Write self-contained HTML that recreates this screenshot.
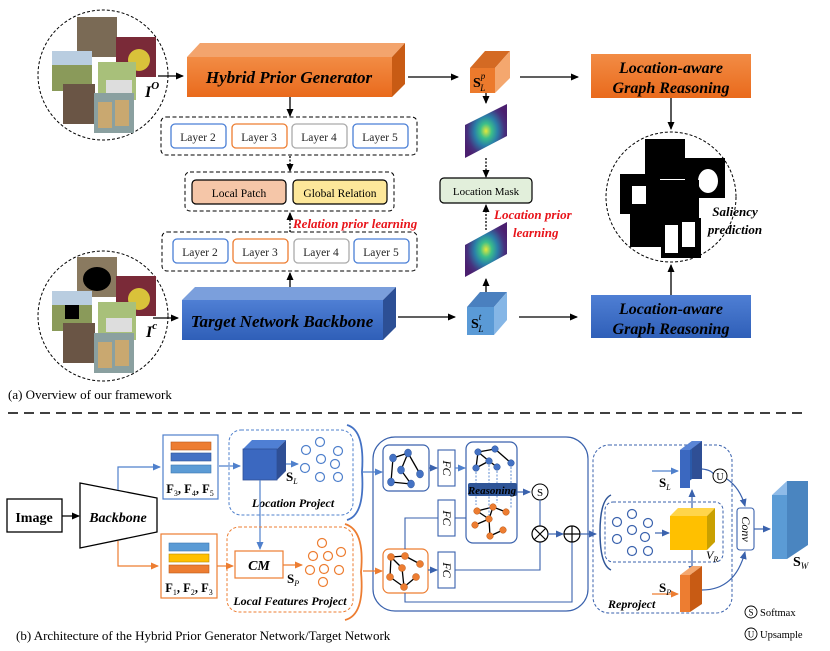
<!DOCTYPE html>
<html><head><meta charset="utf-8"><style>
body{margin:0;background:#fff}
svg{display:block;font-family:"Liberation Serif",serif}
</style></head><body>
<svg width="830" height="651" viewBox="0 0 830 651" xmlns="http://www.w3.org/2000/svg">
<defs>
<marker id="ab" markerWidth="8" markerHeight="8" refX="7" refY="4" orient="auto" markerUnits="userSpaceOnUse"><path d="M0,0.5 L8,4 L0,7.5z" fill="#000"/></marker>
<marker id="abl" markerWidth="8" markerHeight="8" refX="7" refY="4" orient="auto" markerUnits="userSpaceOnUse"><path d="M0,0.5 L8,4 L0,7.5z" fill="#3a62ad"/></marker>
<marker id="abl2" markerWidth="8" markerHeight="8" refX="7" refY="4" orient="auto" markerUnits="userSpaceOnUse"><path d="M0,0.5 L8,4 L0,7.5z" fill="#4f80cc"/></marker>
<marker id="aor" markerWidth="8" markerHeight="8" refX="7" refY="4" orient="auto" markerUnits="userSpaceOnUse"><path d="M0,0.5 L8,4 L0,7.5z" fill="#ed7d31"/></marker>
<linearGradient id="og" x1="0" y1="0" x2="0" y2="1"><stop offset="0" stop-color="#f28c45"/><stop offset="1" stop-color="#e96a1c"/></linearGradient>
<linearGradient id="bg" x1="0" y1="0" x2="0" y2="1"><stop offset="0" stop-color="#4f7fd4"/><stop offset="1" stop-color="#2f5fb8"/></linearGradient>
<radialGradient id="hm" cx="0.5" cy="0.5" r="0.55"><stop offset="0" stop-color="#e7e83a"/><stop offset="0.25" stop-color="#3bbf8a"/><stop offset="0.5" stop-color="#2a7fa8"/><stop offset="0.8" stop-color="#46327e"/><stop offset="1" stop-color="#4b1f6f"/></radialGradient>
</defs>

<!-- Top circle -->
<circle cx="103" cy="75" r="65" fill="none" stroke="#000" stroke-dasharray="3,2"/>
<rect x="77" y="17" width="40" height="40" fill="#7a6a55"/>
<rect x="116" y="37" width="40" height="40" fill="#7a2a38"/>
<circle cx="139" cy="60" r="11" fill="#d9c23a"/>
<rect x="52" y="51" width="40" height="40" fill="#8a9a5a"/>
<rect x="52" y="51" width="40" height="14" fill="#b9cde0"/>
<rect x="98" y="62" width="38" height="38" fill="#a8c07a"/>
<rect x="106" y="80" width="26" height="14" fill="#ddd"/>
<rect x="63" y="84" width="32" height="40" fill="#6a5545"/>
<rect x="94" y="93" width="40" height="40" fill="#8aa0a0"/>
<rect x="98" y="102" width="14" height="26" fill="#c9a870"/>
<rect x="115" y="100" width="14" height="26" fill="#c9a870"/>
<text x="145" y="97" font-size="16" font-style="italic" font-weight="bold">I<tspan font-size="11" dy="-8">O</tspan></text>
<line x1="158" y1="76" x2="183" y2="76" stroke="#000" stroke-width="1.3" marker-end="url(#ab)"/>

<!-- Hybrid Prior Generator -->
<polygon points="187,57 200,43 405,43 392,57" fill="#f3a46d"/>
<polygon points="392,57 405,43 405,84 392,97" fill="#c85b14"/>
<rect x="187" y="57" width="205" height="40" fill="url(#og)"/>
<text x="289" y="83" font-size="17" font-weight="bold" font-style="italic" text-anchor="middle">Hybrid Prior Generator</text>
<line x1="290" y1="97" x2="290" y2="116" stroke="#000" stroke-width="1.3" marker-end="url(#ab)"/>

<!-- layer group 1 -->
<rect x="161" y="117" width="256" height="38" rx="5" fill="none" stroke="#000" stroke-dasharray="4,2.5"/>
<g font-size="11.5" text-anchor="middle" fill="#222">
<rect x="171" y="124" width="55" height="24" rx="4" fill="#fff" stroke="#4a7fd6" stroke-width="1.3"/><text x="198" y="141">Layer 2</text>
<rect x="232" y="124" width="55" height="24" rx="4" fill="#fff" stroke="#ed7d31" stroke-width="1.3"/><text x="259" y="141">Layer 3</text>
<rect x="292" y="124" width="55" height="24" rx="4" fill="#fff" stroke="#aaa" stroke-width="1.3"/><text x="319" y="141">Layer 4</text>
<rect x="353" y="124" width="55" height="24" rx="4" fill="#fff" stroke="#4a7fd6" stroke-width="1.3"/><text x="380" y="141">Layer 5</text>
</g>
<line x1="290" y1="156" x2="290" y2="171" stroke="#000" stroke-width="1.3" stroke-dasharray="2,1.5" marker-end="url(#ab)"/>

<!-- local/global -->
<rect x="185" y="172" width="209" height="39" rx="5" fill="none" stroke="#000" stroke-dasharray="4,2.5"/>
<rect x="192" y="180" width="94" height="24" rx="4" fill="#f5c6a8" stroke="#000" stroke-width="1.2"/>
<rect x="293" y="180" width="94" height="24" rx="4" fill="#fde79a" stroke="#000" stroke-width="1.2"/>
<text x="239" y="197" font-size="11.5" text-anchor="middle">Local Patch</text>
<text x="340" y="197" font-size="11.5" text-anchor="middle">Global Relation</text>
<line x1="290" y1="232" x2="290" y2="213" stroke="#000" stroke-width="1.3" stroke-dasharray="2,1.5" marker-end="url(#ab)"/>
<text x="293" y="228" font-size="13" font-weight="bold" font-style="italic" fill="#e8141a">Relation prior learning</text>

<!-- layer group 2 -->
<rect x="162" y="232" width="255" height="39" rx="5" fill="none" stroke="#000" stroke-dasharray="4,2.5"/>
<g font-size="11.5" text-anchor="middle" fill="#222">
<rect x="173" y="239" width="55" height="24" rx="4" fill="#fff" stroke="#4a7fd6" stroke-width="1.3"/><text x="200" y="256">Layer 2</text>
<rect x="233" y="239" width="55" height="24" rx="4" fill="#fff" stroke="#ed7d31" stroke-width="1.3"/><text x="260" y="256">Layer 3</text>
<rect x="294" y="239" width="55" height="24" rx="4" fill="#fff" stroke="#aaa" stroke-width="1.3"/><text x="321" y="256">Layer 4</text>
<rect x="354" y="239" width="55" height="24" rx="4" fill="#fff" stroke="#4a7fd6" stroke-width="1.3"/><text x="381" y="256">Layer 5</text>
</g>
<line x1="290" y1="290" x2="290" y2="273" stroke="#000" stroke-width="1.3" marker-end="url(#ab)"/>

<!-- Target network backbone -->
<polygon points="182,300 195,287 396,287 383,300" fill="#7b9fdc"/>
<polygon points="383,300 396,287 396,327 383,340" fill="#2c4f95"/>
<rect x="182" y="300" width="201" height="40" fill="url(#bg)"/>
<text x="282" y="327" font-size="17" font-weight="bold" font-style="italic" text-anchor="middle">Target Network Backbone</text>

<!-- bottom circle -->
<circle cx="103" cy="316" r="65" fill="none" stroke="#000" stroke-dasharray="3,2"/>
<rect x="77" y="257" width="40" height="40" fill="#8a7a60"/>
<ellipse cx="97" cy="279" rx="14" ry="12" fill="#000"/>
<rect x="116" y="276" width="40" height="40" fill="#7a2a38"/>
<circle cx="139" cy="299" r="11" fill="#d9c23a"/>
<rect x="52" y="291" width="40" height="40" fill="#8a9a5a"/>
<rect x="52" y="291" width="40" height="14" fill="#b9cde0"/>
<rect x="65" y="305" width="14" height="14" fill="#000"/>
<rect x="98" y="302" width="38" height="38" fill="#a8c07a"/>
<rect x="106" y="318" width="26" height="14" fill="#ddd"/>
<rect x="63" y="323" width="32" height="40" fill="#6a5545"/>
<rect x="94" y="333" width="40" height="40" fill="#8aa0a0"/>
<rect x="98" y="342" width="14" height="26" fill="#c9a870"/>
<rect x="115" y="340" width="14" height="26" fill="#c9a870"/>
<text x="146" y="337" font-size="16" font-style="italic" font-weight="bold">I<tspan font-size="11" dy="-8">c</tspan></text>
<line x1="153" y1="318" x2="178" y2="318" stroke="#000" stroke-width="1.3" marker-end="url(#ab)"/>

<!-- right top -->
<line x1="408" y1="77" x2="458" y2="77" stroke="#000" stroke-width="1.3" marker-end="url(#ab)"/>
<polygon points="470,68 485,51 510,51 495,68" fill="#d46a23"/>
<polygon points="495,68 510,51 510,78 495,93" fill="#f4a76e"/>
<rect x="470" y="68" width="25" height="25" fill="#ec7a2c"/>
<text x="473" y="87" font-size="14" font-weight="bold">S<tspan font-size="9" dy="-8" font-style="italic" font-weight="normal">p</tspan><tspan font-size="9" dx="-5" dy="12" font-style="italic" font-weight="normal">L</tspan></text>
<line x1="520" y1="77" x2="578" y2="77" stroke="#000" stroke-width="1.3" marker-end="url(#ab)"/>
<rect x="591" y="54" width="160" height="44" fill="url(#og)"/>
<text x="671" y="73" font-size="16" font-weight="bold" font-style="italic" text-anchor="middle">Location-aware</text>
<text x="671" y="93" font-size="16" font-weight="bold" font-style="italic" text-anchor="middle">Graph Reasoning</text>
<line x1="671" y1="98" x2="671" y2="129" stroke="#000" stroke-width="1.3" marker-end="url(#ab)"/>

<line x1="486" y1="93" x2="486" y2="103" stroke="#000" stroke-width="1.3" marker-end="url(#ab)"/>
<polygon points="465,125 507,104 507,136 465,158" fill="url(#hm)"/>
<line x1="486" y1="158" x2="486" y2="177" stroke="#000" stroke-width="1.3" stroke-dasharray="2,1.5" marker-end="url(#ab)"/>
<rect x="440" y="178" width="92" height="25" rx="4" fill="#e2efdb" stroke="#000" stroke-width="1.2"/>
<text x="486" y="195" font-size="11" text-anchor="middle">Location Mask</text>
<line x1="486" y1="230" x2="486" y2="205" stroke="#000" stroke-width="1.3" stroke-dasharray="2,1.5" marker-end="url(#ab)"/>
<text x="494" y="219" font-size="13" font-weight="bold" font-style="italic" fill="#e8141a">Location prior</text>
<text x="513" y="237" font-size="13" font-weight="bold" font-style="italic" fill="#e8141a">learning</text>
<polygon points="465,245 507,222 507,254 465,277" fill="url(#hm)"/>
<line x1="486" y1="292" x2="486" y2="279" stroke="#000" stroke-width="1.3" marker-end="url(#ab)"/>
<polygon points="467,307 480,292 507,292 494,307" fill="#4a80bf"/>
<polygon points="494,307 507,292 507,320 494,335" fill="#85b6e6"/>
<rect x="467" y="307" width="27" height="28" fill="#5a9ad6"/>
<text x="471" y="328" font-size="14" font-weight="bold">S<tspan font-size="9" dy="-8" font-style="italic" font-weight="normal">t</tspan><tspan font-size="9" dx="-3" dy="12" font-style="italic" font-weight="normal">L</tspan></text>
<line x1="398" y1="317" x2="455" y2="317" stroke="#000" stroke-width="1.3" marker-end="url(#ab)"/>
<line x1="519" y1="317" x2="577" y2="317" stroke="#000" stroke-width="1.3" marker-end="url(#ab)"/>
<rect x="591" y="295" width="160" height="43" fill="url(#bg)"/>
<text x="671" y="314" font-size="16" font-weight="bold" font-style="italic" text-anchor="middle">Location-aware</text>
<text x="671" y="334" font-size="16" font-weight="bold" font-style="italic" text-anchor="middle">Graph Reasoning</text>
<line x1="671" y1="295" x2="671" y2="265" stroke="#000" stroke-width="1.3" marker-end="url(#ab)"/>

<!-- saliency -->
<circle cx="671" cy="197" r="65" fill="none" stroke="#000" stroke-dasharray="3,2"/>
<rect x="645" y="139" width="40" height="40" fill="#000"/>
<rect x="685" y="158" width="40" height="40" fill="#000"/>
<ellipse cx="708" cy="181" rx="10" ry="12" fill="#fff"/>
<rect x="620" y="174" width="40" height="40" fill="#000"/>
<rect x="632" y="186" width="14" height="18" fill="#fff"/>
<rect x="659" y="180" width="40" height="40" fill="#000"/>
<rect x="630" y="209" width="32" height="38" fill="#000"/>
<rect x="661" y="218" width="40" height="40" fill="#000"/>
<rect x="665" y="225" width="13" height="28" fill="#fff"/>
<rect x="682" y="222" width="13" height="25" fill="#fff"/>
<text x="735" y="216" font-size="13" font-weight="bold" font-style="italic" text-anchor="middle">Saliency</text>
<text x="735" y="234" font-size="13" font-weight="bold" font-style="italic" text-anchor="middle">prediction</text>

<text x="8" y="399" font-size="13">(a) Overview of our framework</text>
<line x1="8" y1="413" x2="807" y2="413" stroke="#000" stroke-width="1.5" stroke-dasharray="10,6"/>

<!-- ===== Part b ===== -->
<rect x="7" y="499" width="55" height="33" fill="#fff" stroke="#000" stroke-width="1.3"/>
<text x="34" y="522" font-size="14" font-weight="bold" text-anchor="middle">Image</text>
<line x1="62" y1="516" x2="79" y2="516" stroke="#000" stroke-width="1.3" marker-end="url(#ab)"/>
<polygon points="80,483 157,498 157,532 80,548" fill="#fff" stroke="#000" stroke-width="1.3"/>
<text x="118" y="522" font-size="14" font-weight="bold" font-style="italic" text-anchor="middle">Backbone</text>
<polyline points="118,490 118,467 160,467" fill="none" stroke="#4f80cc" stroke-width="1.2" marker-end="url(#abl2)"/>
<polyline points="118,541 118,566 158,566" fill="none" stroke="#ed7d31" stroke-width="1.2" marker-end="url(#aor)"/>

<rect x="163" y="435" width="55" height="64" fill="#fff" stroke="#4f80cc" stroke-width="1.2"/>
<rect x="171" y="442" width="40" height="8" fill="#ed7d31" stroke="#b85a1b" stroke-width="0.6"/>
<rect x="171" y="453" width="40" height="8" fill="#4472c4" stroke="#2f5597" stroke-width="0.6"/>
<rect x="171" y="465" width="40" height="8" fill="#5b9bd5" stroke="#3c78b0" stroke-width="0.6"/>
<text x="190" y="493" font-size="12.5" font-weight="bold" text-anchor="middle">F<tspan font-size="8" dy="3" font-weight="normal">3</tspan><tspan dy="-3">, F</tspan><tspan font-size="8" dy="3" font-weight="normal">4</tspan><tspan dy="-3">, F</tspan><tspan font-size="8" dy="3" font-weight="normal">5</tspan></text>

<rect x="161" y="534" width="56" height="64" fill="#fff" stroke="#ed7d31" stroke-width="1.2"/>
<rect x="169" y="543" width="40" height="8" fill="#5b9bd5" stroke="#3c78b0" stroke-width="0.6"/>
<rect x="169" y="554" width="40" height="8" fill="#ffc000" stroke="#b88a00" stroke-width="0.6"/>
<rect x="169" y="565" width="40" height="8" fill="#ed7d31" stroke="#b85a1b" stroke-width="0.6"/>
<text x="189" y="592" font-size="12.5" font-weight="bold" text-anchor="middle">F<tspan font-size="8" dy="3" font-weight="normal">1</tspan><tspan dy="-3">, F</tspan><tspan font-size="8" dy="3" font-weight="normal">2</tspan><tspan dy="-3">, F</tspan><tspan font-size="8" dy="3" font-weight="normal">3</tspan></text>

<!-- location project -->
<rect x="229" y="430" width="124" height="85" rx="12" fill="none" stroke="#4f80cc" stroke-width="1" stroke-dasharray="3,2"/>
<line x1="219" y1="466" x2="240" y2="466" stroke="#4f80cc" stroke-width="1.2" marker-end="url(#abl2)"/>
<polygon points="243,449 252,440 286,440 277,449" fill="#4f7fd4"/>
<polygon points="277,449 286,440 286,471 277,480" fill="#2f4f95"/>
<rect x="243" y="449" width="34" height="31" fill="#3b68c0" stroke="#2f4f95" stroke-width="0.8"/>
<line x1="286" y1="464" x2="298" y2="464" stroke="#4f80cc" stroke-width="1.2" marker-end="url(#abl2)"/>
<text x="286" y="481" font-size="13" font-weight="bold">S<tspan font-size="8" dy="3" font-style="italic" font-weight="normal">L</tspan></text>
<g fill="none" stroke="#4f80cc" stroke-width="1.2">
<circle cx="320" cy="442" r="4.5"/><circle cx="306" cy="450" r="4.5"/><circle cx="338" cy="451" r="4.5"/><circle cx="321" cy="459" r="4.5"/><circle cx="335" cy="464" r="4.5"/><circle cx="305" cy="468" r="4.5"/><circle cx="320" cy="477" r="4.5"/><circle cx="338" cy="477" r="4.5"/>
</g>
<text x="293" y="507" font-size="12" font-weight="bold" font-style="italic" text-anchor="middle">Location Project</text>
<path d="M347,425 Q365,430 362,472 Q365,515 347,520" fill="none" stroke="#4472c4" stroke-width="1.8"/>
<line x1="260" y1="480" x2="260" y2="549" stroke="#4f80cc" stroke-width="1.2" marker-end="url(#abl2)"/>

<!-- local features project -->
<rect x="227" y="527" width="126" height="85" rx="12" fill="none" stroke="#ed7d31" stroke-width="1" stroke-dasharray="3,2"/>
<line x1="217" y1="566" x2="233" y2="566" stroke="#ed7d31" stroke-width="1.2" marker-end="url(#aor)"/>
<rect x="235" y="551" width="48" height="27" fill="#fff" stroke="#ed7d31" stroke-width="1.2"/>
<text x="259" y="570" font-size="14" font-weight="bold" font-style="italic" text-anchor="middle">CM</text>
<line x1="283" y1="565" x2="302" y2="565" stroke="#ed7d31" stroke-width="1.2" marker-end="url(#aor)"/>
<text x="287" y="583" font-size="13" font-weight="bold">S<tspan font-size="8" dy="3" font-style="italic" font-weight="normal">P</tspan></text>
<g fill="none" stroke="#ed7d31" stroke-width="1.2">
<circle cx="322" cy="543" r="4.5"/><circle cx="313" cy="556" r="4.5"/><circle cx="328" cy="556" r="4.5"/><circle cx="341" cy="552" r="4.5"/><circle cx="310" cy="570" r="4.5"/><circle cx="324" cy="569" r="4.5"/><circle cx="339" cy="570" r="4.5"/><circle cx="323" cy="582" r="4.5"/>
</g>
<text x="290" y="605" font-size="12" font-weight="bold" font-style="italic" text-anchor="middle">Local Features Project</text>
<path d="M345,524 Q365,530 361,572 Q365,615 345,620" fill="none" stroke="#ed7d31" stroke-width="1.8"/>

<!-- big graph block -->
<rect x="373" y="437" width="215" height="174" rx="22" fill="none" stroke="#3a62ad" stroke-width="1.2"/>
<line x1="363" y1="472" x2="382" y2="472" stroke="#4f80cc" stroke-width="1.2" marker-end="url(#abl2)"/>
<line x1="363" y1="571" x2="382" y2="571" stroke="#ed7d31" stroke-width="1.2" marker-end="url(#aor)"/>
<rect x="383" y="445" width="46" height="46" rx="6" fill="#fff" stroke="#3a62ad" stroke-width="1.2"/>
<g stroke="#000" stroke-width="1.3">
<line x1="393" y1="458" x2="408" y2="453"/><line x1="408" y1="453" x2="420" y2="474"/><line x1="393" y1="458" x2="391" y2="482"/><line x1="391" y1="482" x2="411" y2="484"/><line x1="401" y1="470" x2="411" y2="484"/><line x1="408" y1="453" x2="401" y2="470"/>
</g>
<g fill="#4472c4" stroke="#2f5597" stroke-width="0.5">
<ellipse cx="393" cy="458" rx="3.5" ry="4"/><ellipse cx="408" cy="453" rx="3.5" ry="4"/><ellipse cx="401" cy="470" rx="3.5" ry="4"/><ellipse cx="420" cy="474" rx="3.5" ry="4"/><ellipse cx="391" cy="482" rx="3.5" ry="4"/><ellipse cx="411" cy="484" rx="3.5" ry="4"/>
</g>
<rect x="383" y="549" width="45" height="44" rx="6" fill="#fff" stroke="#ed7d31" stroke-width="1.2"/>
<g stroke="#000" stroke-width="1.3">
<line x1="391" y1="557" x2="405" y2="556"/><line x1="405" y1="556" x2="420" y2="564"/><line x1="391" y1="557" x2="390" y2="577"/><line x1="391" y1="557" x2="402" y2="568"/><line x1="402" y1="568" x2="404" y2="587"/><line x1="390" y1="577" x2="404" y2="587"/><line x1="404" y1="587" x2="416" y2="577"/>
</g>
<g fill="#ed7d31" stroke="#b85a1b" stroke-width="0.5">
<circle cx="391" cy="557" r="3.5"/><circle cx="405" cy="556" r="3.5"/><circle cx="420" cy="564" r="3.5"/><circle cx="402" cy="568" r="3.5"/><circle cx="390" cy="577" r="3.5"/><circle cx="404" cy="587" r="3.5"/><circle cx="416" cy="577" r="3.5"/>
</g>
<g fill="#fff" stroke="#3a62ad" stroke-width="1.1">
<rect x="438" y="450" width="17" height="36"/><rect x="438" y="500" width="17" height="36"/><rect x="438" y="552" width="17" height="36"/>
</g>
<g font-size="12" font-style="italic" text-anchor="middle">
<text transform="translate(443,468) rotate(90)" dy="0">FC</text>
<text transform="translate(443,518) rotate(90)">FC</text>
<text transform="translate(443,570) rotate(90)">FC</text>
</g>
<line x1="429" y1="468" x2="437" y2="468" stroke="#3a62ad" stroke-width="1.2" marker-end="url(#abl)"/>
<line x1="455" y1="468" x2="465" y2="468" stroke="#4f80cc" stroke-width="1.2" marker-end="url(#abl2)"/>
<line x1="428" y1="570" x2="437" y2="570" stroke="#3a62ad" stroke-width="1.2" marker-end="url(#abl)"/>
<polyline points="405,549 405,518 438,518" fill="none" stroke="#3a62ad" stroke-width="1.1"/>
<line x1="455" y1="518" x2="466" y2="518" stroke="#3a62ad" stroke-width="1.1"/>
<polyline points="455,570 540,570 540,542" fill="none" stroke="#3a62ad" stroke-width="1.1"/>
<polyline points="405,593 405,602 572,602 572,542" fill="none" stroke="#3a62ad" stroke-width="1.1"/>

<rect x="466" y="442" width="51" height="101" rx="7" fill="#fff" stroke="#3a62ad" stroke-width="1.2"/>
<g stroke="#000" stroke-width="1.3">
<line x1="478" y1="452" x2="495" y2="449"/><line x1="495" y1="449" x2="511" y2="463"/><line x1="478" y1="452" x2="476" y2="468"/><line x1="476" y1="468" x2="489" y2="461"/><line x1="489" y1="461" x2="497" y2="467"/><line x1="478" y1="452" x2="489" y2="461"/>
<line x1="477" y1="511" x2="493" y2="507"/><line x1="493" y1="507" x2="506" y2="512"/><line x1="477" y1="511" x2="489" y2="519"/><line x1="489" y1="519" x2="475" y2="525"/><line x1="489" y1="519" x2="490" y2="536"/><line x1="490" y1="536" x2="503" y2="530"/><line x1="493" y1="507" x2="489" y2="519"/>
</g>
<g stroke="#4f80cc" stroke-width="0.9" stroke-dasharray="2,1.5">
<line x1="476" y1="472" x2="476" y2="505"/><line x1="489" y1="465" x2="489" y2="515"/><line x1="497" y1="471" x2="497" y2="503"/><line x1="511" y1="467" x2="511" y2="508"/>
</g>
<g fill="#4472c4" stroke="#2f5597" stroke-width="0.5">
<circle cx="478" cy="452" r="3.3"/><circle cx="495" cy="449" r="3.3"/><circle cx="489" cy="461" r="3.3"/><circle cx="511" cy="463" r="3.3"/><circle cx="476" cy="468" r="3.3"/><circle cx="497" cy="467" r="3.3"/>
</g>
<g fill="#ed7d31" stroke="#b85a1b" stroke-width="0.5">
<circle cx="477" cy="511" r="3.3"/><circle cx="493" cy="507" r="3.3"/><circle cx="506" cy="512" r="3.3"/><circle cx="489" cy="519" r="3.3"/><circle cx="475" cy="525" r="3.3"/><circle cx="490" cy="536" r="3.3"/><circle cx="503" cy="530" r="3.3"/>
</g>
<rect x="468" y="483" width="49" height="13" rx="2" fill="#2f5597"/>
<text x="492" y="494" font-size="11" font-weight="bold" font-style="italic" text-anchor="middle">Reasoning</text>
<line x1="517" y1="492" x2="530" y2="492" stroke="#3a62ad" stroke-width="1.2" marker-end="url(#abl)"/>
<circle cx="540" cy="492" r="8" fill="#fff" stroke="#000" stroke-width="1"/>
<text x="540" y="496" font-size="11" text-anchor="middle">S</text>
<line x1="540" y1="500" x2="540" y2="526" stroke="#3a62ad" stroke-width="1.1"/>
<circle cx="540" cy="534" r="8" fill="#fff" stroke="#000" stroke-width="1.2"/>
<path d="M534.5,528.5 L545.5,539.5 M545.5,528.5 L534.5,539.5" stroke="#000" stroke-width="1.2"/>
<line x1="548" y1="534" x2="563" y2="534" stroke="#3a62ad" stroke-width="1.2" marker-end="url(#abl)"/>
<circle cx="572" cy="534" r="8" fill="#fff" stroke="#000" stroke-width="1.2"/>
<path d="M564,534 L580,534 M572,526 L572,542" stroke="#000" stroke-width="1.2"/>
<line x1="580" y1="534" x2="596" y2="534" stroke="#3a62ad" stroke-width="1.2" marker-end="url(#abl)"/>

<!-- reproject -->
<rect x="593" y="445" width="139" height="168" rx="16" fill="none" stroke="#3a62ad" stroke-width="1" stroke-dasharray="3,2"/>
<path d="M611,495 Q600,500 600,532 Q600,565 611,570" fill="none" stroke="#2f5597" stroke-width="1.5"/>
<rect x="605" y="502" width="118" height="60" rx="8" fill="none" stroke="#3a62ad" stroke-width="1" stroke-dasharray="3,2"/>
<g fill="none" stroke="#3a62ad" stroke-width="1.2">
<circle cx="617" cy="522" r="4.5"/><circle cx="632" cy="514" r="4.5"/><circle cx="648" cy="523" r="4.5"/><circle cx="632" cy="530" r="4.5"/><circle cx="645" cy="537" r="4.5"/><circle cx="617" cy="539" r="4.5"/><circle cx="632" cy="551" r="4.5"/><circle cx="648" cy="551" r="4.5"/>
</g>
<line x1="655" y1="533" x2="669" y2="533" stroke="#3a62ad" stroke-width="1.2" marker-end="url(#abl)"/>
<polygon points="670,516 678,508 715,508 707,516" fill="#ffd54a"/>
<polygon points="707,516 715,508 715,542 707,550" fill="#c9a000"/>
<rect x="670" y="516" width="37" height="34" fill="#ffc000"/>
<text x="706" y="559" font-size="12" font-style="italic">V<tspan font-size="8" dy="3">R</tspan></text>
<polygon points="680,450 692,441 692,479 680,488" fill="#2a5aaa"/>
<polygon points="692,441 702,441 702,479 692,479" fill="#2f4f95"/>
<polygon points="680,450 692,441 702,441 690,450" fill="#5a85d6"/>
<rect x="680" y="450" width="10" height="38" fill="#3b68c0"/>
<line x1="652" y1="471" x2="678" y2="471" stroke="#4f80cc" stroke-width="1.2" marker-end="url(#abl2)"/>
<text x="659" y="487" font-size="13" font-weight="bold">S<tspan font-size="8" dy="3" font-style="italic" font-weight="normal">L</tspan></text>
<line x1="692" y1="508" x2="692" y2="490" stroke="#3a62ad" stroke-width="1.2" marker-end="url(#abl)"/>
<line x1="692" y1="550" x2="692" y2="573" stroke="#3a62ad" stroke-width="1.2" marker-end="url(#abl)"/>
<polygon points="680,575 692,566 702,566 690,575" fill="#f4a76e"/>
<rect x="680" y="575" width="10" height="37" fill="#ed7d31"/>
<polygon points="690,575 702,566 702,604 690,612" fill="#c85b14"/>
<line x1="652" y1="594" x2="678" y2="594" stroke="#ed7d31" stroke-width="1.2" marker-end="url(#aor)"/>
<text x="659" y="592" font-size="13" font-weight="bold">S<tspan font-size="8" dy="3" font-style="italic" font-weight="normal">P</tspan></text>
<text x="608" y="608" font-size="12" font-weight="bold" font-style="italic">Reproject</text>

<path d="M702,469 Q712,470 714,475" fill="none" stroke="#3a62ad" stroke-width="1.2"/>
<circle cx="720" cy="476" r="7" fill="#fff" stroke="#000" stroke-width="1"/>
<text x="720" y="480" font-size="10" text-anchor="middle">U</text>
<path d="M727,479 Q740,488 745,506" fill="none" stroke="#3a62ad" stroke-width="1.2" marker-end="url(#abl)"/>
<path d="M702,590 Q735,590 745,552" fill="none" stroke="#3a62ad" stroke-width="1.2" marker-end="url(#abl)"/>
<rect x="737" y="508" width="17" height="42" rx="3" fill="#fff" stroke="#3a62ad" stroke-width="1.1"/>
<text transform="translate(742,529) rotate(90)" font-size="12" font-style="italic" text-anchor="middle">Conv</text>
<line x1="754" y1="529" x2="770" y2="529" stroke="#3a62ad" stroke-width="1.2" marker-end="url(#abl)"/>
<polygon points="772,495 787,481 808,481 793,495" fill="#8fbbe8"/>
<rect x="772" y="495" width="15" height="64" fill="#5b9bd5"/>
<polygon points="787,481 808,481 808,545 787,559" fill="#4a85c0"/>
<text x="793" y="566" font-size="14" font-weight="bold">S<tspan font-size="9" dy="3" font-style="italic" font-weight="normal">W</tspan></text>

<circle cx="751" cy="612" r="6" fill="#fff" stroke="#000" stroke-width="0.9"/>
<text x="751" y="615.5" font-size="9" text-anchor="middle">S</text>
<text x="760" y="616" font-size="10.5">Softmax</text>
<circle cx="751" cy="634" r="6" fill="#fff" stroke="#000" stroke-width="0.9"/>
<text x="751" y="637.5" font-size="9" text-anchor="middle">U</text>
<text x="760" y="638" font-size="10.5">Upsample</text>

<text x="16" y="640" font-size="13">(b) Architecture of the Hybrid Prior Generator Network/Target Network</text>
</svg>
</body></html>
